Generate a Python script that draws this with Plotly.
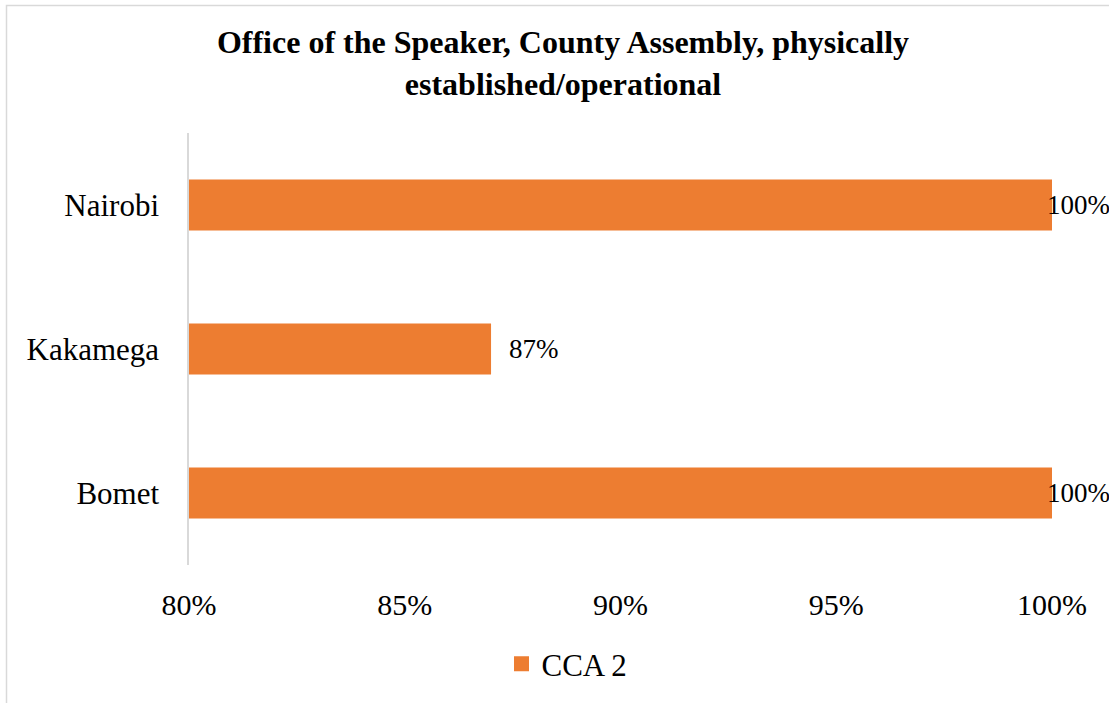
import plotly.graph_objects as go

# Counties, bottom to top as they appear on the axis
counties = ["Bomet", "Kakamega", "Nairobi"]
cca2_values = [100, 87, 100]
x_tick_values = [80, 85, 90, 95, 100]
x_tick_labels = ["80%", "85%", "90%", "95%", "100%"]

BAR_COLOR = "#ED7D31"
FONT = "Liberation Serif, Times New Roman, serif"

W, H = 1109, 703
M_L, M_R, M_T, M_B = 189, 57, 133, 138
plot_w = W - M_L - M_R
plot_h = H - M_T - M_B

fig = go.Figure()
fig.add_trace(go.Bar(
    y=counties,
    x=cca2_values,
    orientation="h",
    base=0,
    name="CCA 2",
    marker=dict(color=BAR_COLOR, line=dict(width=0)),
    hoverinfo="x+y",
    showlegend=False,
))

# legend entry with a larger square key
fig.add_trace(go.Scatter(
    x=[None], y=[None],
    mode="markers",
    name="CCA 2",
    marker=dict(symbol="square", size=15, color=BAR_COLOR),
    showlegend=True,
))

# value labels at the end of each bar
for c, v in zip(counties, cca2_values):
    fig.add_annotation(
        x=v, y=c, xref="x", yref="y",
        text=f"{v}%", showarrow=False,
        xanchor="left", yanchor="middle",
        xshift=16 if v < 100 else -7,
        font=dict(family=FONT, size=27, color="#000000"),
    )

# light outer frame of the chart area
fig.add_shape(
    type="rect", xref="paper", yref="paper",
    x0=(6.5 - M_L) / plot_w, x1=1.2,
    y0=-0.5, y1=(M_T + plot_h - 5.5) / plot_h,
    line=dict(color="#d9d9d9", width=1.5),
    fillcolor="rgba(0,0,0,0)",
    layer="below",
)

fig.update_layout(
    width=W, height=H,
    margin=dict(l=M_L, r=M_R, t=M_T, b=M_B, pad=0),
    paper_bgcolor="white",
    plot_bgcolor="white",
    bargap=0.647,
    title=dict(
        text="Office of the Speaker, County Assembly, physically<br>established/operational",
        x=563 / W, xanchor="center",
        y=1 - 53 / H, yanchor="top", yref="container",
        font=dict(family=FONT, size=32, color="#000000", weight="bold"),
    ),
    xaxis=dict(
        range=[80, 100],
        tickmode="array",
        tickvals=x_tick_values,
        ticktext=x_tick_labels,
        showgrid=False,
        zeroline=False,
        showline=False,
        ticks="",
        ticklabelstandoff=19,
        tickfont=dict(family=FONT, size=30, color="#000000"),
        fixedrange=True,
    ),
    yaxis=dict(
        showgrid=False,
        zeroline=False,
        showline=True,
        linecolor="#d9d9d9",
        linewidth=1.5,
        ticks="",
        ticklabelstandoff=22,
        tickfont=dict(family=FONT, size=31, color="#000000"),
        fixedrange=True,
    ),
    showlegend=True,
    legend=dict(
        x=(567 - M_L) / plot_w, xanchor="center",
        y=(H - M_B - 664) / plot_h, yanchor="middle",
        orientation="h",
        font=dict(family=FONT, size=31, color="#000000"),
        itemwidth=30,
        bgcolor="rgba(0,0,0,0)",
    ),
)

fig.write_html("out.html")
